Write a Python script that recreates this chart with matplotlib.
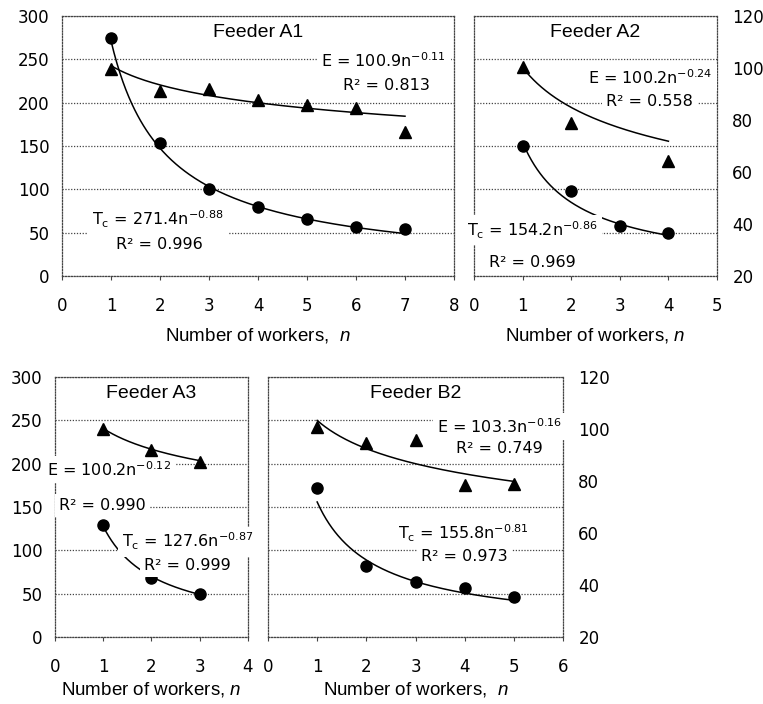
import numpy as np
import matplotlib
matplotlib.use("Agg")
import matplotlib.pyplot as plt

plt.rcParams["font.family"] = ["DejaVu Sans"]
plt.rcParams["mathtext.fontset"] = "custom"
plt.rcParams["mathtext.rm"] = "Liberation Sans"
plt.rcParams["mathtext.it"] = "Liberation Sans:italic"

# dades llegides de la figura (Tc a l'eix esquerre, E a l'eix dret)
n_a1 = [1, 2, 3, 4, 5, 6, 7]
tc_a1 = [275, 153, 100, 80, 66, 56, 54]
e_a1 = [99.8, 91.0, 92.0, 87.7, 85.7, 84.7, 75.2]

n_a2 = [1, 2, 3, 4]
tc_a2 = [150, 98, 58, 50]
n_e_a2 = [1, 2, 4]
e_a2 = [100.2, 79.0, 64.3]

n_a3 = [1, 2, 3]
tc_a3 = [129, 68, 50]
e_a3 = [100.0, 91.9, 87.2]

n_b2 = [1, 2, 3, 4, 5]
tc_b2 = [172, 82, 63, 57, 46]
e_b2 = [100.7, 94.8, 95.6, 78.6, 79.0]

# coeficients de les corbes de tendencia (a, b, R2)
fit_tc_a1 = (271.4, -0.88, 0.996)
fit_e_a1 = (100.9, -0.11, 0.813)
fit_tc_a2 = (154.2, -0.86, 0.969)
fit_e_a2 = (100.2, -0.24, 0.558)
fit_tc_a3 = (127.6, -0.87, 0.999)
fit_e_a3 = (100.2, -0.12, 0.990)
fit_tc_b2 = (155.8, -0.81, 0.973)
fit_e_b2 = (103.3, -0.16, 0.749)

GRAY = "#444444"
DOT = (0, (1, 1.3))

fig = plt.figure(figsize=(7.63, 7.04), dpi=100)


def text_eq(nom, fit):
    a, b, r2 = fit
    linia1 = nom + " = {:.1f}n".format(a) + r"$^{\mathregular{-" + "{:.2f}".format(abs(b)) + "}}$"
    linia2 = "R² = {:.3f}".format(r2)
    return linia1, linia2


def panell(rect, titol, n_tc, tc, n_e, e, fit_tc, fit_e, xmax, costat, xlabel,
           pos_e, pos_tc, labelpad=8):
    ax = fig.add_axes(rect)
    ax2 = ax.twinx()

    ax.set_xlim(0, xmax)
    ax.set_ylim(0, 300)
    ax2.set_ylim(20, 120)
    ax.set_xticks(range(0, xmax + 1))
    ax.set_yticks(range(0, 301, 50))
    ax2.set_yticks(range(20, 121, 20))

    ax.set_axisbelow(True)
    ax.yaxis.grid(True, color=GRAY, linestyle=DOT, linewidth=0.9)
    for sp in ax.spines.values():
        sp.set_linestyle(DOT)
        sp.set_color(GRAY)
        sp.set_linewidth(0.9)
    for sp in ax2.spines.values():
        sp.set_visible(False)

    ax.tick_params(axis="x", direction="out", length=3, width=0.8, color=GRAY,
                   labelsize=12, pad=12)
    ax.tick_params(axis="y", length=0, labelsize=12, pad=9)
    ax2.tick_params(axis="y", length=0, labelsize=12, pad=11)
    if costat == "left":
        ax2.set_yticklabels([])
    else:
        ax.set_yticklabels([])

    # Tc (cercles) a l'eix esquerre
    nn = np.linspace(1, max(n_tc), 200)
    ax.plot(nn, fit_tc[0] * nn ** fit_tc[1], color="black", linewidth=1.1, zorder=4)
    ax.plot(n_tc, tc, "o", color="black", markersize=8, zorder=5)

    # E (triangles) a l'eix dret
    nn = np.linspace(1, max(n_e), 200)
    ax2.plot(nn, fit_e[0] * nn ** fit_e[1], color="black", linewidth=1.1, zorder=4)
    ax2.plot(n_e, e, "^", color="black", markersize=9, zorder=5)

    caixa = dict(facecolor="white", edgecolor="none", pad=3)
    for nom, fit, pos in (("E", fit_e, pos_e), (r"T$_{\mathregular{c}}$", fit_tc, pos_tc)):
        l1, l2 = text_eq(nom, fit)
        ax2.text(pos[0], pos[1], l1, transform=ax.transData, ha="center",
                 va="center", fontsize=11.5, bbox=caixa, zorder=3)
        ax2.text(pos[2], pos[3], l2, transform=ax.transData, ha="center",
                 va="center", fontsize=11.5, bbox=caixa, zorder=3)

    ax.text(0.5, 0.935, titol, transform=ax.transAxes, ha="center", va="center",
            fontsize=14, family="Liberation Sans")
    ax.set_xlabel(xlabel, fontsize=13.5, family="Liberation Sans", labelpad=labelpad)
    return ax


panell([62 / 763, 1 - 276 / 704, 392 / 763, 260 / 704], "Feeder A1",
       n_a1, tc_a1, n_a1, e_a1, fit_tc_a1, fit_e_a1, 8, "left",
       r"Number of workers,  $\mathit{n}$",
       (6.57, 248, 6.63, 220), (1.96, 65, 1.98, 36))
panell([474 / 763, 1 - 276 / 704, 243 / 763, 260 / 704], "Feeder A2",
       n_a2, tc_a2, n_e_a2, e_a2, fit_tc_a2, fit_e_a2, 5, "right",
       r"Number of workers, $\mathit{n}$",
       (3.63, 229, 3.62, 201), (1.2, 53, 1.2, 16))
panell([55 / 763, 1 - 637 / 704, 193 / 763, 260 / 704], "Feeder A3",
       n_a3, tc_a3, n_a3, e_a3, fit_tc_a3, fit_e_a3, 4, "left",
       r"Number of workers, $\mathit{n}$",
       (1.12, 193, 0.98, 152), (2.75, 110, 2.74, 83), labelpad=3)
panell([268 / 763, 1 - 637 / 704, 295 / 763, 260 / 704], "Feeder B2",
       n_b2, tc_b2, n_b2, e_b2, fit_tc_b2, fit_e_b2, 6, "right",
       r"Number of workers,  $\mathit{n}$",
       (4.72, 243, 4.71, 217), (3.98, 120, 4.0, 93), labelpad=3)

fig.savefig("out.png", dpi=100)
